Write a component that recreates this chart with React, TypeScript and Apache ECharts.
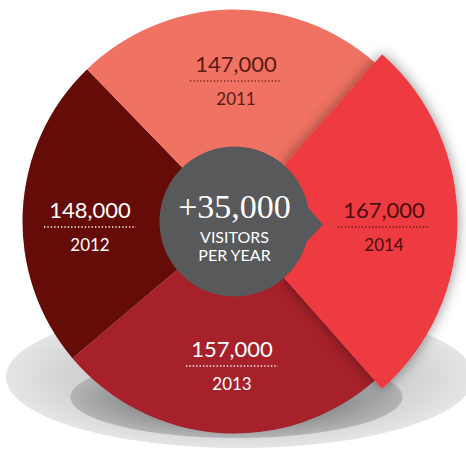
import React, { useEffect, useRef } from "react";
import * as echarts from "echarts";

// Data (clockwise from the right slice)
const years = ["2014", "2013", "2012", "2011"];
const visitors = [167000, 157000, 148000, 147000];
const sliceColors = ["#EE3A43", "#A6212A", "#660C08", "#F07262"];
const labelColors = ["#4A0D12", "#FFFFFF", "#FFFFFF", "#5B1A14"];
const dotColors = ["#5A1A1A", "#FFFFFF", "#FFFFFF", "#7A2A20"];
const growthText = "+35,000";
const captionText = "VISITORS\nPER YEAR";

export default function App() {
  const ref = useRef<HTMLDivElement>(null);

  useEffect(() => {
    const chart = echarts.init(ref.current!, null, { renderer: "svg" });
    const total = visitors.reduce((a, b) => a + b, 0);
    // Centre the largest slice on the 3 o'clock direction
    const startAngle = (180 * visitors[0]) / total;
    const cx = 234.5;
    const cy = 221.5;
    const anchors = [
      [384, 227],
      [232, 366],
      [90, 227],
      [236, 81],
    ];
    const fmt = (v: number) => v.toLocaleString("en-US");

    const labelCommon: any = {
      position: "inside",
      formatter: (p: any) => `{v|${fmt(p.value)}}\n{y|${p.name}}`,
      rich: {
        v: { fontFamily: "Lato", fontSize: 22, lineHeight: 35 },
        y: { fontFamily: "Lato", fontSize: 17, lineHeight: 35 },
      },
    };
    const layoutFn = (p: any) => ({
      x: anchors[p.dataIndex][0],
      y: anchors[p.dataIndex][1],
    });

    const baseData = years.map((y, i) => ({
      name: y,
      value: visitors[i],
      itemStyle: { color: sliceColors[i] },
      label: { color: labelColors[i], show: i !== 0 },
    }));
    const popData = years.map((y, i) => ({
      name: y,
      value: visitors[i],
      itemStyle:
        i === 0
          ? {
              color: sliceColors[0],
              shadowBlur: 14,
              shadowColor: "rgba(0,0,0,0.45)",
            }
          : { color: "rgba(0,0,0,0)" },
      label: { color: labelColors[i], show: i === 0 },
    }));

    const dotted = anchors.map((a, i) => ({
      type: "line",
      z: 20,
      silent: true,
      shape: { x1: a[0] - 46, y1: a[1], x2: a[0] + 46, y2: a[1] },
      style: { stroke: dotColors[i], lineWidth: 1.3, lineDash: [1.3, 2.1] },
    }));

    chart.setOption({
      animation: false,
      graphic: [
        {
          type: "ellipse",
          z: 0,
          silent: true,
          shape: { cx: 240, cy: 377, rx: 234, ry: 71 },
          style: {
            fill: {
              type: "radial",
              x: 0.5,
              y: 0.5,
              r: 0.5,
              colorStops: [
                { offset: 0, color: "#bdbec0" },
                { offset: 0.75, color: "#d3d4d6" },
                { offset: 1, color: "#e4e5e6" },
              ],
            },
          },
        },
        {
          type: "ellipse",
          z: 1,
          silent: true,
          shape: { cx: 236.5, cy: 397, rx: 166, ry: 41 },
          style: {
            fill: {
              type: "radial",
              x: 0.5,
              y: 0.5,
              r: 0.5,
              colorStops: [
                { offset: 0, color: "#6a6b6d" },
                { offset: 0.6, color: "#8b8c8e" },
                { offset: 1, color: "#b3b4b6" },
              ],
            },
          },
        },
        {
          type: "circle",
          z: 10,
          silent: true,
          shape: { cx: cx, cy: cy, r: 75 },
          style: { fill: "#58595B" },
        },
        {
          type: "polygon",
          z: 10,
          silent: true,
          shape: {
            points: [
              [303, 202],
              [323, 224.5],
              [303, 246],
            ],
          },
          style: { fill: "#58595B" },
        },
        {
          type: "text",
          z: 11,
          silent: true,
          x: cx,
          y: 206,
          style: {
            text: growthText,
            fill: "#FFFFFF",
            fontFamily: "Liberation Serif",
            fontSize: 34,
            align: "center",
            verticalAlign: "middle",
          },
        },
        {
          type: "text",
          z: 11,
          silent: true,
          x: cx,
          y: 245,
          style: {
            text: captionText,
            fill: "#FFFFFF",
            fontFamily: "Lato",
            fontSize: 16,
            lineHeight: 18,
            align: "center",
            verticalAlign: "middle",
          },
        },
        ...dotted,
      ],
      series: [
        {
          type: "pie",
          z: 2,
          center: [cx, cy],
          radius: [74, 212],
          startAngle,
          clockwise: true,
          avoidLabelOverlap: false,
          silent: true,
          emphasis: { disabled: true },
          label: labelCommon,
          labelLine: { show: false },
          labelLayout: layoutFn,
          data: baseData,
        },
        {
          type: "pie",
          z: 3,
          center: [cx, cy],
          radius: [74, 223],
          startAngle,
          clockwise: true,
          avoidLabelOverlap: false,
          silent: true,
          emphasis: { disabled: true },
          label: labelCommon,
          labelLine: { show: false },
          labelLayout: layoutFn,
          data: popData,
        },
      ],
    });
    return () => chart.dispose();
  }, []);

  return (
    <div
      ref={ref}
      style={{ position: "absolute", left: 0, top: 0, width: 466, height: 451 }}
    />
  );
}
